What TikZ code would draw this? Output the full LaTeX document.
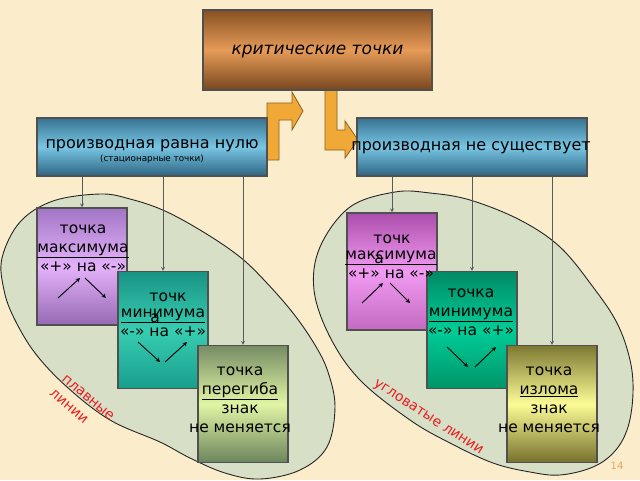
\documentclass[tikz,border=0pt]{standalone}
\usepackage{fontspec}
\setmainfont{DejaVu Sans}
\usetikzlibrary{calc}
\usetikzlibrary{positioning}
\definecolor{cream}{RGB}{251,236,203}
\definecolor{zonefill}{RGB}{215,223,199}
\definecolor{boxline}{RGB}{80,80,80}
\definecolor{linkgray}{RGB}{90,90,90}
\definecolor{arrowfill}{RGB}{240,168,55}
\definecolor{arrowline}{RGB}{140,95,30}
\definecolor{notered}{RGB}{235,30,30}
\definecolor{pagenum}{RGB}{225,165,100}
\tikzset{>=stealth,
  shade3/.style n args = {3}{top color=#1, bottom color=#3, middle color=#2},
  box/.style = {draw=boxline, line width=1.1pt, inner sep=0pt,
                minimum width=90pt, minimum height=117pt},
  bluebox/.style = {box, minimum width=230pt, minimum height=58pt,
                    shade3={{rgb,255:red,55;green,115;blue,145}}{{rgb,255:red,120;green,198;blue,228}}{{rgb,255:red,45;green,100;blue,130}}},
  txt/.style = {font=\fontsize{15.5}{19}\selectfont, align=center, inner sep=0pt},
  link/.style = {draw=linkgray, ->, line width=0.8pt},
  tiny/.style = {->, line width=0.9pt},
  blockarrow/.style = {fill=arrowfill, draw=arrowline, line width=0.8pt},
  zone/.style = {fill=zonefill, draw=black!85, line width=0.9pt},
  note/.style = {text=notered, font=\fontsize{14}{19}\selectfont, inner sep=0pt}
}
\begin{document}
\begin{tikzpicture}[x=1pt,y=-1pt]
  \useasboundingbox (0,0) rectangle (640,480);
  \fill[cream] (0,0) rectangle (640,480);

  % the two zones
  \draw[zone] plot[smooth cycle, tension=0.6] coordinates {
    (2,258) (20,222) (53,201) (100,194) (130,199) (165,211) (205,233)
    (240,257) (265,281) (293,313) (315,345) (328,372) (335,407) (327,447)
    (300,470) (260,479) (225,473) (190,458) (160,442) (110,420) (67,387)
    (35,353) (14,318) (4,290)};
  \draw[zone] plot[smooth cycle, tension=0.6] coordinates {
    (395,192) (430,193) (470,200) (520,220) (560,247) (593,287) (617,323)
    (630,360) (633,393) (628,427) (615,451) (593,467) (560,475) (530,472)
    (493,463) (450,443) (410,420) (360,380) (330,337) (314,290) (320,247)
    (350,207)};

  % bent arrows under the title
  \draw[blockarrow] (267,160) -- (267,103) -- (292,103) -- (292,92) -- (303,111)
    -- (292,130) -- (292,120) -- (279,120) -- (279,160) -- cycle;
  \draw[blockarrow] (325,90) -- (325,150) -- (345,150) -- (345,158) -- (358,140)
    -- (345,121) -- (345,130) -- (337,130) -- (337,90) -- cycle;

  \node[box, minimum width=229pt, minimum height=80pt,
        shade3={{rgb,255:red,135;green,80;blue,35}}{{rgb,255:red,230;green,155;blue,88}}{{rgb,255:red,120;green,70;blue,30}}]
        (crit) at (317.5,50) {};
  \node[inner sep=0pt] at (317.5,52) {\fontsize{17}{20}\selectfont\itshape критические точки};

  \node[bluebox] (zero) at (152,147) {};
  \node[inner sep=0pt] at (152,145.5) {\fontsize{16}{20}\selectfont производная равна нулю};
  \node[inner sep=0pt] at (152,159) {\fontsize{8.8}{10}\selectfont (стационарные точки)};
  \node[bluebox] (none) at (472,147) {};
  \node[inner sep=0pt] at (471,148) {\fontsize{16}{20}\selectfont производная не существует};

  % smooth lines
  \node[box, shade3={{rgb,255:red,162;green,118;blue,198}}{{rgb,255:red,228;green,178;blue,250}}{{rgb,255:red,150;green,105;blue,180}}]
        (maxL) at (82,266.5) {};
  \node[box, shade3={{rgb,255:red,25;green,148;blue,132}}{{rgb,255:red,55;green,205;blue,178}}{{rgb,255:red,25;green,158;blue,140}}]
        (minL) at (163,330) {};
  \node[box, shade3={{rgb,255:red,118;green,140;blue,100}}{{rgb,255:red,225;green,245;blue,165}}{{rgb,255:red,108;green,132;blue,92}}]
        (infl) at (243,404) {};

  % angular lines
  \node[box, shade3={{rgb,255:red,172;green,78;blue,172}}{{rgb,255:red,242;green,155;blue,242}}{{rgb,255:red,195;green,105;blue,195}}]
        (maxR) at (392,271.5) {};
  \node[box, shade3={{rgb,255:red,0;green,138;blue,100}}{{rgb,255:red,0;green,205;blue,152}}{{rgb,255:red,0;green,148;blue,105}}]
        (minR) at (472,330) {};
  \node[box, shade3={{rgb,255:red,125;green,120;blue,50}}{{rgb,255:red,252;green,252;blue,150}}{{rgb,255:red,118;green,112;blue,45}}]
        (kink) at (552,404) {};

  \draw[link] (maxL.north |- zero.south) -- (maxL.north);
  \draw[link] (minL.north |- zero.south) -- (minL.north);
  \draw[link] (infl.north |- zero.south) -- (infl.north);
  \draw[link] (maxR.north |- none.south) -- (maxR.north);
  \draw[link] (minR.north |- none.south) -- (minR.north);
  \draw[link] (kink.north |- none.south) -- (kink.north);

  % texts in the boxes
  \node[txt] at (83,248) {точка\\\underline{максимума}\\«+» на «-»};
  \node[txt] at (168,297) {точк};
  \node[txt] at (163,323) {\underline{минимума}\\«-» на «+»};
  \node[txt] at (155,318) {а};
  \node[txt] at (240,400) {точка\\\underline{перегиба}\\знак\\не меняется};
  \node[txt] at (392,239) {точк};
  \node[txt] at (391,265) {\underline{максимума}\\«+» на «-»};
  \node[txt] at (379,259) {а};
  \node[txt] at (471,312) {точка\\\underline{минимума}\\«-» на «+»};
  \node[txt] at (549,400) {точка\\\underline{излома}\\знак\\не меняется};

  % small arrows
  \draw[tiny] ($(maxL)+(-24,31.5)$) -- ($(maxL)+(-2,11.5)$);
  \draw[tiny] ($(maxL)+(3,11.5)$) -- ($(maxL)+(24,31.5)$);
  \draw[tiny] ($(minL)+(-25,12)$) -- ($(minL)+(-3,32)$);
  \draw[tiny] ($(minL)+(2,32)$) -- ($(minL)+(24,12)$);
  \draw[tiny] ($(maxR)+(-30,31.5)$) -- ($(maxR)+(-9,11.5)$);
  \draw[tiny] ($(maxR)+(-2,11.5)$) -- ($(maxR)+(18,31.5)$);
  \draw[tiny] ($(minR)+(-25,17)$) -- ($(minR)+(-4,37)$);
  \draw[tiny] ($(minR)+(3,37)$) -- ($(minR)+(24,17)$);

  \node[note, align=left, rotate=-40] at (82,405) {плавные\\линии};
  \node[note, rotate=-33] at (428,418) {угловатые линии};
  \node[text=pagenum, font=\fontsize{10}{12}\selectfont] at (617,466) {14};
\end{tikzpicture}
\end{document}
